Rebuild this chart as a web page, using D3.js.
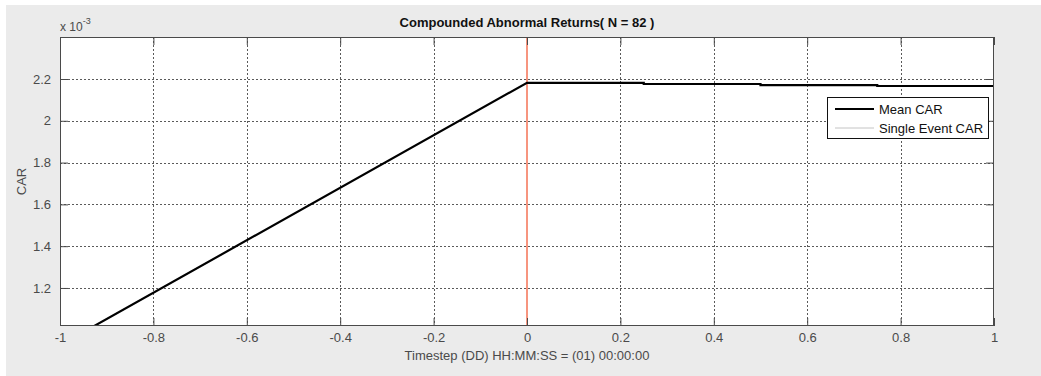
<!DOCTYPE html>
<html>
<head>
<meta charset="utf-8">
<script src="https://cdn.jsdelivr.net/npm/d3@7"></script>
<style>
  html, body { margin: 0; padding: 0; background: #ffffff; }
  svg { display: block; }
  text { font-family: "Liberation Sans", Arial, sans-serif; }
</style>
</head>
<body>
<svg id="chart" width="1041" height="376"></svg>
<script>
// Mean compounded abnormal return around the event (values in units of 1e-3)
const timestep = [-1, 0, 0.25, 0.25, 0.5, 0.5, 0.75, 0.75, 1];
const meanCAR  = [0.926, 2.182, 2.181, 2.176, 2.176, 2.171, 2.171, 2.1665, 2.1665];

const xTicks = [-1, -0.8, -0.6, -0.4, -0.2, 0, 0.2, 0.4, 0.6, 0.8, 1];
const yTicks = [1.2, 1.4, 1.6, 1.8, 2, 2.2];
const xTickLabels = ["-1", "-0.8", "-0.6", "-0.4", "-0.2", "0", "0.2", "0.4", "0.6", "0.8", "1"];
const yTickLabels = ["1.2", "1.4", "1.6", "1.8", "2", "2.2"];
const eventTime = [0];
const legendItems = ["Mean CAR", "Single Event CAR"];

const svg = d3.select("#chart");
const W = 1041, H = 376;
const box = { left: 60, right: 994, top: 37, bottom: 326 };
const fontSize = 13;

// figure background
svg.append("rect").attr("x", 6).attr("y", 5).attr("width", W - 6).attr("height", H - 5)
  .attr("fill", "#ebebeb");
svg.append("rect").attr("x", box.left).attr("y", box.top)
  .attr("width", box.right - box.left).attr("height", box.bottom - box.top)
  .attr("fill", "#ffffff");

const x = d3.scaleLinear().domain([-1, 1]).range([box.left, box.right]);
const y = d3.scaleLinear().domain([1.018, 2.401]).range([box.bottom, box.top]);

const axisColor = "#4a4a4a";
const gridColor = "#5a5a5a";
const textColor = "#4a4a4a";

// grid lines
const grid = svg.append("g");
grid.selectAll(".gx").data(xTicks.slice(1, -1)).join("line")
  .attr("x1", d => Math.round(x(d)) + 0.5).attr("x2", d => Math.round(x(d)) + 0.5)
  .attr("y1", box.top).attr("y2", box.bottom)
  .attr("stroke", gridColor).attr("stroke-width", 1).attr("stroke-dasharray", "2,2");
grid.selectAll(".gy").data(yTicks).join("line")
  .attr("y1", d => Math.round(y(d)) + 0.5).attr("y2", d => Math.round(y(d)) + 0.5)
  .attr("x1", box.left).attr("x2", box.right)
  .attr("stroke", gridColor).attr("stroke-width", 1).attr("stroke-dasharray", "2,2");

// event marker
svg.selectAll(".event").data(eventTime).join("line")
  .attr("x1", d => x(d)).attr("x2", d => x(d))
  .attr("y1", box.top).attr("y2", box.bottom)
  .attr("stroke", "#f7957f").attr("stroke-width", 2);

// mean CAR line, clipped to the axes box
svg.append("clipPath").attr("id", "plotClip").append("rect")
  .attr("x", box.left).attr("y", box.top)
  .attr("width", box.right - box.left).attr("height", box.bottom - box.top);

const line = d3.line().x((d, i) => x(timestep[i])).y(d => y(d));
svg.append("path").datum(meanCAR)
  .attr("clip-path", "url(#plotClip)")
  .attr("d", line)
  .attr("fill", "none").attr("stroke", "#000000").attr("stroke-width", 2.2);

// axes box with inward ticks
const tickLen = 8;
const xAxisBottom = d3.axisBottom(x).tickValues(xTicks).tickSize(-tickLen).tickPadding(7)
  .tickFormat((d, i) => xTickLabels[i]);
const xAxisTop = d3.axisTop(x).tickValues(xTicks).tickSize(-tickLen).tickFormat("");
const yAxisLeft = d3.axisLeft(y).tickValues(yTicks).tickSize(-tickLen).tickPadding(9)
  .tickFormat((d, i) => yTickLabels[i]);
const yAxisRight = d3.axisRight(y).tickValues(yTicks).tickSize(-tickLen).tickFormat("");

function styleAxis(g) {
  g.select(".domain").remove();
  g.selectAll("line").attr("stroke", axisColor);
  g.selectAll("text").attr("fill", textColor).attr("font-size", fontSize)
    .attr("font-family", "'Liberation Sans', Arial, sans-serif");
}
svg.append("g").attr("transform", `translate(0,${box.bottom})`).call(xAxisBottom).call(styleAxis);
svg.append("g").attr("transform", `translate(0,${box.top})`).call(xAxisTop).call(styleAxis);
svg.append("g").attr("transform", `translate(${box.left},0)`).call(yAxisLeft).call(styleAxis);
svg.append("g").attr("transform", `translate(${box.right},0)`).call(yAxisRight).call(styleAxis);

svg.append("rect").attr("x", box.left + 0.5).attr("y", box.top + 0.5)
  .attr("width", box.right - box.left - 1).attr("height", box.bottom - box.top - 1)
  .attr("fill", "none").attr("stroke", axisColor).attr("stroke-width", 1);

// exponent label
const expo = svg.append("text").attr("x", box.left).attr("y", 31)
  .attr("fill", textColor).attr("font-size", 12);
expo.append("tspan").text("x 10");
expo.append("tspan").attr("dy", -7).attr("font-size", 9).text("-3");

// title and axis labels
svg.append("text").attr("x", (box.left + box.right) / 2).attr("y", 27)
  .attr("text-anchor", "middle").attr("font-size", fontSize).attr("font-weight", "bold")
  .attr("fill", "#111111").text("Compounded Abnormal Returns( N = 82 )");
svg.append("text").attr("x", (box.left + box.right) / 2).attr("y", 360)
  .attr("text-anchor", "middle").attr("font-size", fontSize).attr("fill", textColor)
  .text("Timestep (DD) HH:MM:SS = (01) 00:00:00");
svg.append("text").attr("transform", `translate(26,${(box.top + box.bottom) / 2}) rotate(-90)`)
  .attr("text-anchor", "middle").attr("font-size", fontSize).attr("fill", textColor).text("CAR");

// legend
const lg = svg.append("g").attr("transform", "translate(827,97)");
lg.append("rect").attr("x", 0.5).attr("y", 0.5).attr("width", 161).attr("height", 41)
  .attr("fill", "#ffffff").attr("stroke", "#111111").attr("stroke-width", 1);
const legendStroke = [{ c: "#000000", w: 2.2 }, { c: "#c4c4c4", w: 1 }];
lg.selectAll(".li").data(legendItems).join("g")
  .attr("transform", (d, i) => `translate(0,${12 + i * 19})`)
  .each(function (d, i) {
    const g = d3.select(this);
    g.append("line").attr("x1", 8).attr("x2", 47).attr("y1", 0).attr("y2", 0)
      .attr("stroke", legendStroke[i].c).attr("stroke-width", legendStroke[i].w);
    g.append("text").attr("x", 52).attr("y", 4.5).attr("font-size", fontSize)
      .attr("fill", "#111111").text(d);
  });
</script>
</body>
</html>
